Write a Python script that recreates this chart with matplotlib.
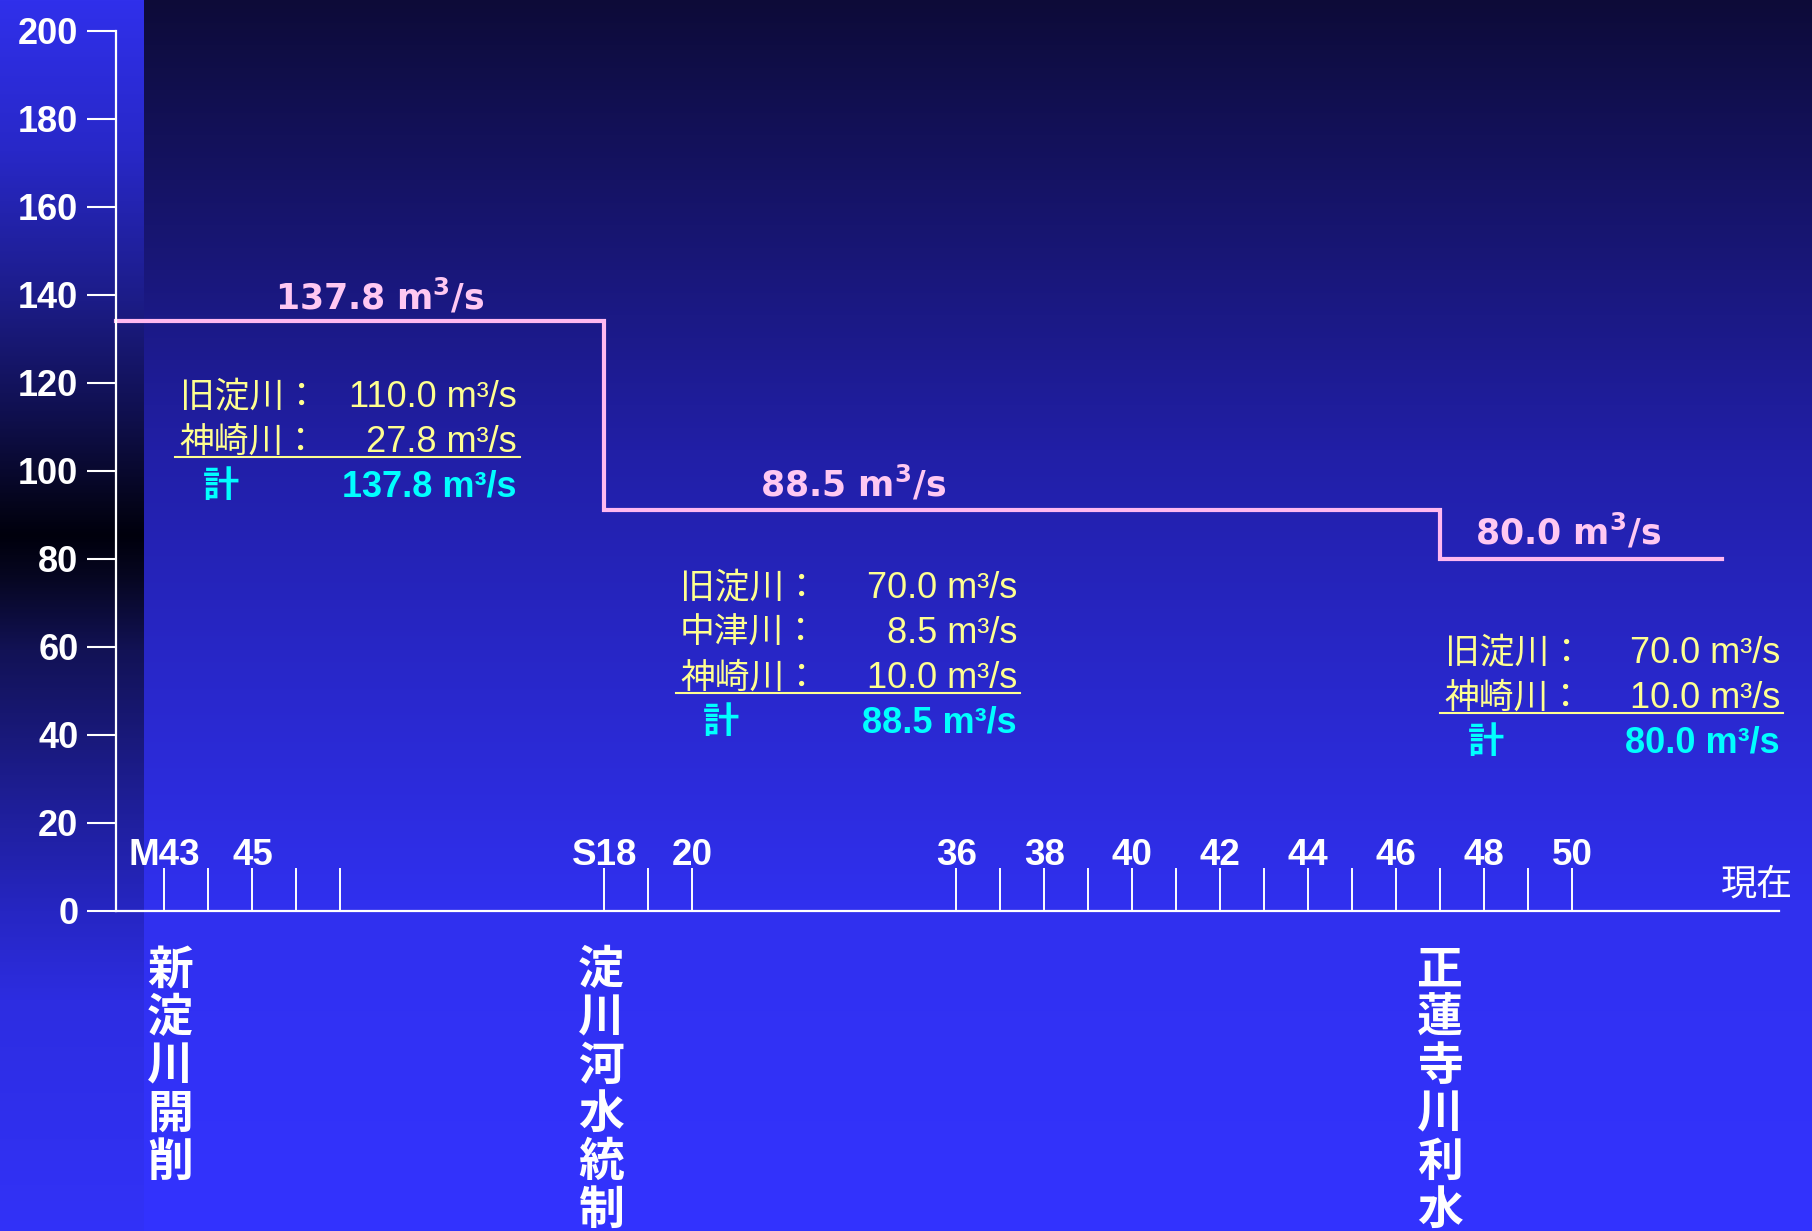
import numpy as np
import matplotlib.pyplot as plt
from matplotlib.transforms import offset_copy

plt.rcParams['font.family'] = ['Liberation Sans', 'Noto Sans CJK JP']
plt.rcParams['mathtext.fontset'] = 'dejavusans'
CJK = ['Noto Sans CJK JP', 'Liberation Sans']

# --- data -------------------------------------------------------------
meiji_years = [43, 44, 45, 46, 47]
showa_early = [18, 19, 20]
showa_late = [36, 37, 38, 39, 40, 41, 42, 43, 44, 45, 46, 47, 48, 49, 50]
tick_labels = ['M43', '', '45', '', '',
               'S18', '', '20',
               '36', '', '38', '', '40', '', '42', '', '44', '', '46', '', '48', '', '50']

flow_totals = [137.8, 88.5, 80.0]      # labels above the steps
line_levels = [134, 91, 80]            # level of the drawn step line
kyu_yodo = [110.0, 70.0, 70.0]         # 旧淀川
nakatsu = [None, 8.5, None]            # 中津川
kanzaki = [27.8, 10.0, 10.0]           # 神崎川
events = ['新淀川開削', '淀川河水統制', '正蓮寺川利水']

# --- tick positions on the broken time axis ---------------------------
gap = 6
positions, keys = [], []
start = 1.1
for era, years in [('M', meiji_years), ('S', showa_early), ('S', showa_late)]:
    for i, yr in enumerate(years):
        positions.append(start + i)
        keys.append((era, yr))
    start = positions[-1] + gap
pos = dict(zip(keys, positions))

xmax = 37.8
now_pos = xmax - 1.3

# --- figure & background ---------------------------------------------
W, H = 1812, 1231
fig = plt.figure(figsize=(W / 100, H / 100), dpi=100)

yy = np.arange(H)
main_stops = [(0, (13, 11, 56)), (450, (33, 31, 166)), (900, (48, 48, 238)), (1231, (51, 51, 255))]
left_stops = [(0, (48, 48, 235)), (150, (40, 40, 200)), (300, (28, 28, 135)), (420, (15, 15, 75)),
              (500, (5, 5, 30)), (535, (0, 0, 12)), (575, (6, 6, 32)), (650, (18, 18, 85)),
              (800, (30, 30, 150)), (911, (38, 38, 195)), (1000, (45, 45, 225)), (1231, (50, 50, 248))]


def grad(stops):
    ys = [s[0] for s in stops]
    return np.stack([np.interp(yy, ys, [s[1][c] for s in stops]) for c in range(3)], axis=1) / 255


img = np.empty((H, W, 3))
img[:, :] = grad(main_stops)[:, None, :]
img[:, :144] = grad(left_stops)[:, None, :]
bg = fig.add_axes([0, 0, 1, 1], zorder=0)
bg.imshow(img, aspect='auto', interpolation='bilinear')
bg.axis('off')

ax = fig.add_axes([116 / W, (H - 911) / H, (1779 - 116) / W, (911 - 30.7) / H], zorder=1)
ax.patch.set_alpha(0)
ax.set_xlim(0, xmax)
ax.set_ylim(0, 200)

for s in ['top', 'right']:
    ax.spines[s].set_visible(False)
for s in ['left', 'bottom']:
    ax.spines[s].set_color('white')
    ax.spines[s].set_linewidth(1.6)

ax.set_yticks(range(0, 201, 20))
ax.tick_params(axis='y', direction='out', length=21, width=1.5, colors='white',
               labelsize=26, pad=6)
for lab in ax.get_yticklabels():
    lab.set_fontweight('bold')

ax.set_xticks(positions)
ax.tick_params(axis='x', direction='in', length=31, width=1.4, color='white',
               labelbottom=False)

tick_tr = offset_copy(ax.transData, fig=fig, y=46, units='dots')
for p, lab in zip(positions, tick_labels):
    if lab:
        ax.text(p, 0, lab, transform=tick_tr, ha='center', va='baseline',
                color='white', fontsize=26.5, fontweight='bold')
ax.text(37.3, 0, '現在', transform=offset_copy(ax.transData, fig=fig, y=16, units='dots'),
        ha='center', va='baseline', color='white', fontsize=26, family=CJK)

# --- step line ---------------------------------------------------------
step_x = [0, pos[('S', 18)], pos[('S', 47)], now_pos]
step_y = line_levels + [line_levels[-1]]
ax.plot(step_x, step_y, drawstyle='steps-post', color='#ffb8f0', lw=3, clip_on=False,
        solid_joinstyle='miter')

# --- labels --------------------------------------------------------------
label_x = [6.0, 16.75, 33.0]
label_y = [136.6, 94.1, 83.2]
for x, y, v in zip(label_x, label_y, flow_totals):
    ax.text(x, y, f'{v:.1f} m' + r'$^{\mathbf{3}}$' + '/s', ha='center', va='baseline',
            color='#ffc8f2', fontsize=25, fontweight='bold', family='DejaVu Sans')

yellow = '#ffff90'
cyan = '#00ffff'
block_left = [1.45, 12.82, 30.2]
block_right = [9.11, 20.48, 37.82]
block_top = [114.5, 71.1, 56.4]
step = 10.2
for i in range(3):
    rows = [('旧淀川：', kyu_yodo[i]), ('中津川：', nakatsu[i]), ('神崎川：', kanzaki[i])]
    rows = [r for r in rows if r[1] is not None]
    y = block_top[i]
    for name, v in rows:
        ax.text(block_left[i], y, name, ha='left', va='baseline', color=yellow,
                fontsize=25, family=CJK)
        ax.text(block_right[i], y, f'{v:.1f} m³/s', ha='right', va='baseline',
                color=yellow, fontsize=26)
        y -= step
    ax.plot([block_left[i] - 0.1, block_right[i] + 0.07], [y + step - 1.2] * 2,
            color=yellow, lw=1.5, clip_on=False)
    ax.text(block_left[i] + 0.52, y, '計', ha='left', va='baseline', color=cyan,
            fontsize=26, fontweight='bold', family=CJK)
    ax.text(block_right[i], y, f'{flow_totals[i]:.1f} m³/s', ha='right', va='baseline',
            color=cyan, fontsize=26, fontweight='bold')

event_x = [1.23, 11.02, 30.09]
for x, ev in zip(event_x, events):
    for k, ch in enumerate(ev):
        ax.text(x, -13.6 - 10.9 * k, ch, ha='center', va='center', color='white',
                fontsize=33, fontweight='bold', family=CJK)

fig.savefig('out.png', dpi=100)
